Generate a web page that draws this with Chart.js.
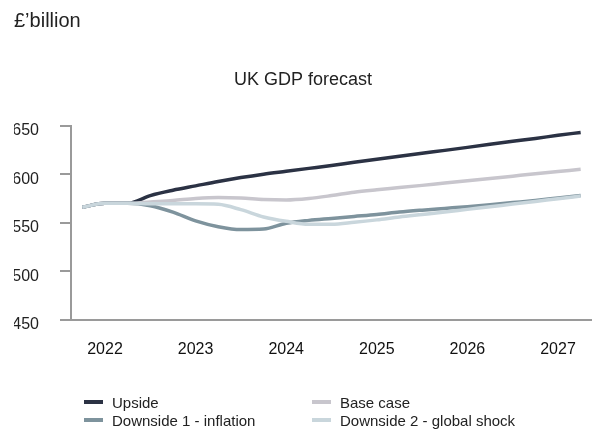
<!DOCTYPE html>
<html lang="en">
  <head>
    <meta charset="UTF-8" />
    <title>UK GDP forecast</title>
    <script src="https://cdn.jsdelivr.net/npm/chart.js"></script>
    <style>
      body { margin: 0; background: #fff; font-family: "Liberation Sans", Arial, sans-serif; }
      .wrap { position: relative; width: 592px; height: 432px; }
      .chart-box { position: absolute; left: 0; top: 0; width: 592px; height: 370px; }
      .legend { position: absolute; left: 0; top: 0; width: 592px; height: 432px; pointer-events: none; }
      .legend-item { position: absolute; display: flex; align-items: center; font-size: 15px; color: #222; white-space: nowrap; }
      .legend-item span.sw { display: inline-block; width: 19px; height: 4px; margin-right: 9px; }
    </style>
  </head>
  <body>
    <div class="wrap">
      <div class="chart-box"><canvas id="gdpChart"></canvas></div>
      <div class="legend" id="legend"></div>
    </div>

    <script>
      // quarters from Q4 2021 to Q2 2027
      const quarters = [
        "Q4 2021",
        "Q1 2022", "Q2 2022", "Q3 2022", "Q4 2022",
        "Q1 2023", "Q2 2023", "Q3 2023", "Q4 2023",
        "Q1 2024", "Q2 2024", "Q3 2024", "Q4 2024",
        "Q1 2025", "Q2 2025", "Q3 2025", "Q4 2025",
        "Q1 2026", "Q2 2026", "Q3 2026", "Q4 2026",
        "Q1 2027", "Q2 2027",
      ];

      const seriesNames = ["Upside", "Base case", "Downside 1 - inflation", "Downside 2 - global shock"];
      const seriesColors = ["#2b3244", "#c8c6cd", "#7e939d", "#c9d6dc"];

      // £ billion
      const upside = [566, 570, 570, 578, 583.5, 588, 592.5, 596.5, 600, 603, 606, 609, 612.2, 615.3, 618.4, 621.5, 624.5, 627.6, 630.7, 633.8, 636.8, 640, 643];
      const baseCase = [566, 570, 570, 571.5, 573, 575, 576, 575.5, 574, 573.5, 575, 578, 581.5, 584, 586.2, 588.5, 591, 593.3, 595.6, 598, 600.4, 602.7, 605];
      const downside1 = [566, 570, 570, 567.5, 561, 552, 546, 543, 543.5, 549.5, 552.5, 554.5, 556.5, 558.5, 561, 563, 564.8, 566.6, 568.6, 570.8, 573, 575.5, 578];
      const downside2 = [566, 570, 570, 569.5, 569.5, 569.5, 569, 563.5, 556, 551.5, 548.5, 548.5, 550.5, 553, 556, 558.5, 561, 563.8, 566.5, 569.3, 572, 574.8, 577.5];

      const yTicks = [450, 500, 550, 600, 650];

      const allSeries = [upside, baseCase, downside1, downside2];
      // later series are drawn on top
      const datasets = allSeries.map((values, i) => ({
        label: seriesNames[i],
        data: values,
        borderColor: seriesColors[i],
        backgroundColor: seriesColors[i],
        borderWidth: 3.5,
        pointRadius: 0,
        cubicInterpolationMode: "monotone",
        order: allSeries.length - i,
      }));

      const axisGrey = "#9a9a9a";

      const ctx = document.getElementById("gdpChart").getContext("2d");
      const chart = new Chart(ctx, {
        type: "line",
        data: { labels: quarters, datasets: datasets },
        options: {
          responsive: true,
          maintainAspectRatio: false,
          animation: false,
          layout: { padding: { left: 14, right: 0, top: 0, bottom: 12 } },
          plugins: {
            legend: { display: false },
            tooltip: { enabled: false },
            title: {
              display: true,
              text: "£’billion",
              align: "start",
              color: "#222",
              font: { family: "Liberation Sans", size: 20, weight: "normal" },
              padding: { top: 9, bottom: 0 },
            },
            subtitle: {
              display: true,
              text: "UK GDP forecast",
              color: "#222",
              font: { family: "Liberation Sans", size: 18, weight: "normal" },
              padding: { top: 36, bottom: 35 },
            },
          },
          scales: {
            x: {
              offset: true,
              grid: { display: false, drawTicks: false },
              border: { display: true, color: axisGrey, width: 2 },
              ticks: {
                autoSkip: false,
                maxRotation: 0,
                padding: 20,
                color: "#111",
                font: { family: "Liberation Sans", size: 16 },
                callback: function (value) {
                  const q = quarters[value];
                  return q.startsWith("Q1") ? q.slice(3) : "";
                },
              },
              // chart.js counts the tick padding twice, keep the axis compact
              afterFit: (scale) => {
                scale.height = 38;
                scale.paddingLeft = 0;
                scale.paddingRight = 0;
              },
            },
            y: {
              min: 450,
              max: 650,
              afterBuildTicks: (scale) => {
                scale.ticks = yTicks.map((v) => ({ value: v }));
              },
              grid: {
                drawOnChartArea: false,
                drawTicks: true,
                tickLength: 11,
                color: axisGrey,
                lineWidth: 2,
              },
              border: { display: true, color: axisGrey, width: 2 },
              ticks: {
                padding: 21,
                labelOffset: 5,
                color: "#222",
                font: { family: "Liberation Sans", size: 16 },
              },
              afterFit: (scale) => {
                scale.width = 57;
                scale.paddingTop = 0;
                scale.paddingBottom = 0;
              },
            },
          },
        },
      });

      // legend in two columns, built from the chart's datasets
      const legendPos = [
        { left: 84, top: 402 },
        { left: 312, top: 402 },
        { left: 84, top: 420 },
        { left: 312, top: 420 },
      ];
      const legendEl = document.getElementById("legend");
      chart.data.datasets.forEach((ds, i) => {
        const item = document.createElement("div");
        item.className = "legend-item";
        item.style.left = legendPos[i].left + "px";
        item.style.top = legendPos[i].top - 9 + "px";
        item.style.height = "18px";
        const sw = document.createElement("span");
        sw.className = "sw";
        sw.style.background = ds.borderColor;
        item.appendChild(sw);
        item.appendChild(document.createTextNode(ds.label));
        legendEl.appendChild(item);
      });
    </script>
  </body>
</html>
